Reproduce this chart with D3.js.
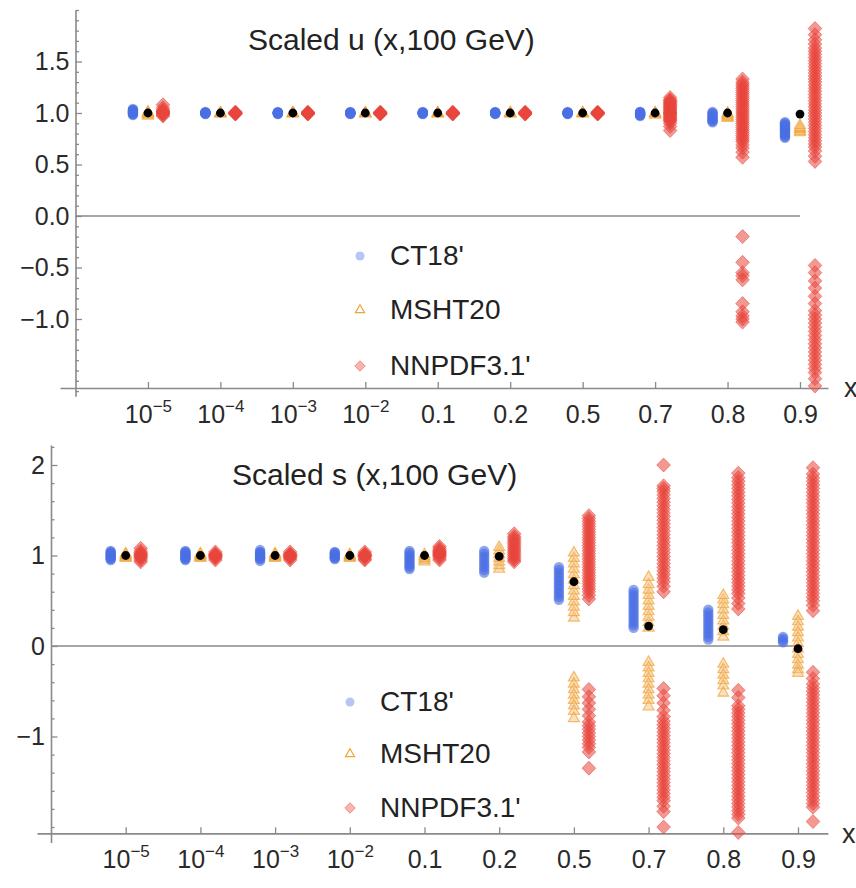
<!DOCTYPE html>
<html>
<head>
<meta charset="utf-8">
<title>Scaled u and s (x,100 GeV)</title>
<script src="https://cdn.jsdelivr.net/npm/d3@7"></script>
<style>
  body { margin: 0; background: #fff; }
  svg { display: block; font-family: "Liberation Sans", Arial, sans-serif; }
</style>
</head>
<body>
<svg id="chart" width="856" height="888"></svg>
<script>
// x categories and their tick labels (base + superscript)
var categories = ["1e-5", "1e-4", "1e-3", "1e-2", "0.1", "0.2", "0.5", "0.7", "0.8", "0.9"];
var tickBase = ["10", "10", "10", "10", "0.1", "0.2", "0.5", "0.7", "0.8", "0.9"];
var tickExp = ["\u22125", "\u22124", "\u22123", "\u22122", "", "", "", "", "", ""];
var seriesNames = ["CT18'", "MSHT20", "NNPDF3.1'"];

// ---- scaled u ----
var uCentral = [1.0, 1.0, 1.0, 1.0, 1.0, 1.0, 1.0, 1.0, 1.0, 0.99];
var uCT18 = [
  [0.98, 0.99, 1.0, 1.0, 1.01, 1.02, 1.03, 1.04, 0.99, 1.01, 1.02, 1.03],
  [0.99, 1.0, 1.0, 1.0, 1.01, 1.0, 0.995, 1.005, 1.0, 1.0],
  [0.99, 1.0, 1.0, 1.01, 1.0, 0.995, 1.005, 1.0, 1.0, 1.0],
  [0.99, 1.0, 1.0, 1.0, 1.01, 1.0, 0.995, 1.0, 1.0, 1.005],
  [0.99, 1.0, 1.0, 1.0, 1.0, 1.01, 0.995, 1.0, 1.005, 1.0],
  [0.99, 1.0, 1.0, 1.0, 1.01, 1.0, 1.0, 0.995, 1.0, 1.005],
  [0.99, 1.0, 1.0, 1.0, 1.0, 1.0, 0.995, 1.005, 1.0, 1.01],
  [0.97, 0.98, 0.98, 0.99, 1.0, 1.0, 1.01, 0.99, 0.98, 1.0, 1.01],
  [0.91, 0.92, 0.93, 0.94, 0.95, 0.96, 0.97, 0.98, 0.99, 1.0, 1.01],
  [0.76, 0.77, 0.78, 0.79, 0.8, 0.81, 0.82, 0.83, 0.84, 0.85, 0.86, 0.87, 0.88, 0.89, 0.9, 0.91]
];
var uMSHT20 = [
  [0.97, 0.98, 0.99, 1.0, 1.0, 1.01],
  [0.99, 1.0, 1.0, 1.0],
  [0.99, 1.0, 1.0, 1.0],
  [0.99, 1.0, 1.0, 1.0],
  [0.99, 1.0, 1.0, 1.0],
  [0.99, 1.0, 1.0, 1.0],
  [0.99, 1.0, 1.0, 1.0],
  [0.98, 0.99, 1.0, 1.0],
  [0.95, 0.96, 0.97, 0.98, 0.99, 1.0],
  [0.81, 0.82, 0.84, 0.85, 0.86, 0.88]
];
var uNNPDF31 = [
  [0.97, 0.98, 0.99, 1.0, 1.0, 1.0, 1.01, 1.01, 1.02, 1.03, 1.05, 1.08],
  [0.99, 0.99, 1.0, 1.0, 1.0, 1.0, 1.01, 1.0],
  [0.99, 1.0, 1.0, 1.0, 1.0, 1.0, 1.01, 0.99],
  [0.99, 0.99, 1.0, 1.0, 1.0, 1.01, 1.0, 1.0],
  [0.99, 1.0, 1.0, 1.0, 1.0, 1.0, 1.01, 0.99],
  [0.99, 0.99, 1.0, 1.0, 1.0, 1.0, 1.01, 1.0],
  [0.99, 1.0, 1.0, 1.0, 1.0, 1.0, 1.01, 0.99],
  [0.83, 0.87, 0.9, 0.92, 0.93, 0.94, 0.95, 0.96, 0.97, 0.98, 0.99, 1.0, 1.0, 1.01, 1.02, 1.03,
   1.04, 1.05, 1.06, 1.07, 1.08, 1.09, 1.1, 1.11, 1.12, 1.13, 1.15],
  [0.57, 0.62, 0.66, 0.69, 0.72, 0.74, 0.76, 0.78, 0.8, 0.82, 0.84, 0.86, 0.88, 0.9, 0.92, 0.94,
   0.96, 0.98, 1.0, 1.02, 1.04, 1.06, 1.08, 1.1, 1.12, 1.14, 1.16, 1.18, 1.2, 1.22, 1.24, 1.26,
   1.28, 1.3, 1.33, -0.2, -0.45, -0.55, -0.58, -0.62, -0.85, -0.93, -0.97, -1.0, -1.03],
  [0.53, 0.58, 0.63, 0.67, 0.7, 0.73, 0.76, 0.79, 0.82, 0.85, 0.88, 0.91, 0.94, 0.97, 1.0, 1.03,
   1.06, 1.09, 1.12, 1.15, 1.18, 1.21, 1.24, 1.27, 1.3, 1.33, 1.36, 1.39, 1.42, 1.45, 1.48, 1.51,
   1.54, 1.57, 1.6, 1.63, 1.67, 1.71, 1.76, 1.82,
   -0.48, -0.55, -0.63, -0.7, -0.78, -0.85, -0.92, -0.96, -1.0, -1.04, -1.08, -1.12, -1.16, -1.2,
   -1.24, -1.28, -1.32, -1.36, -1.4, -1.44, -1.48, -1.52, -1.58, -1.65]
];

// ---- scaled s ----
var sCentral = [1.0, 1.0, 1.0, 1.0, 1.0, 0.99, 0.71, 0.22, 0.18, -0.03];
var sCT18 = [
  [0.95, 0.96, 0.97, 0.98, 0.99, 1.0, 1.01, 1.02, 1.03, 1.04, 1.05],
  [0.95, 0.96, 0.97, 0.98, 0.99, 1.0, 1.01, 1.02, 1.03, 1.04, 1.05],
  [0.94, 0.96, 0.97, 0.98, 0.99, 1.0, 1.01, 1.02, 1.03, 1.04, 1.06],
  [0.96, 0.97, 0.98, 0.99, 1.0, 1.01, 1.02, 1.03, 1.04],
  [0.85, 0.87, 0.89, 0.91, 0.93, 0.95, 0.97, 0.99, 1.01, 1.03, 1.05],
  [0.81, 0.84, 0.87, 0.9, 0.93, 0.96, 0.99, 1.02, 1.05],
  [0.51, 0.54, 0.57, 0.6, 0.63, 0.66, 0.69, 0.72, 0.75, 0.78, 0.81, 0.84, 0.87],
  [0.2, 0.23, 0.26, 0.29, 0.32, 0.35, 0.38, 0.41, 0.44, 0.47, 0.5, 0.53, 0.56, 0.59, 0.62],
  [0.07, 0.1, 0.13, 0.16, 0.19, 0.22, 0.25, 0.28, 0.31, 0.34, 0.37, 0.4],
  [0.04, 0.06, 0.08, 0.1]
];
var sMSHT20 = [
  [0.97, 0.98, 0.99, 1.0, 1.01, 1.02],
  [0.97, 0.98, 0.99, 1.0, 1.01, 1.02],
  [0.97, 0.98, 0.99, 1.0, 1.01, 1.02],
  [0.97, 0.98, 0.99, 1.0, 1.01],
  [0.93, 0.95, 0.97, 0.99, 1.01],
  [0.85, 0.89, 0.93, 0.97, 1.01, 1.05, 1.09],
  [0.31, 0.37, 0.43, 0.49, 0.55, 0.61, 0.67, 0.73, 0.79, 0.85, 0.91, 0.97, 1.03,
   -0.35, -0.42, -0.48, -0.54, -0.6, -0.66, -0.72, -0.8],
  [0.2, 0.26, 0.32, 0.38, 0.44, 0.5, 0.56, 0.62, 0.68, 0.76,
   -0.18, -0.24, -0.3, -0.36, -0.42, -0.48, -0.54, -0.6, -0.67],
  [0.1, 0.16, 0.22, 0.28, 0.34, 0.4, 0.46, 0.51, 0.56,
   -0.2, -0.26, -0.32, -0.38, -0.44, -0.52],
  [0.33, 0.27, 0.21, 0.15, 0.09, 0.03, -0.03, -0.09, -0.15, -0.21, -0.26, -0.3]
];
var sNNPDF31 = [
  [0.93, 0.95, 0.97, 0.98, 0.99, 1.0, 1.01, 1.02, 1.03, 1.05, 1.08],
  [0.95, 0.97, 0.98, 0.99, 1.0, 1.0, 1.01, 1.02, 1.04],
  [0.95, 0.97, 0.98, 0.99, 1.0, 1.0, 1.01, 1.02, 1.04],
  [0.95, 0.96, 0.98, 0.99, 1.0, 1.0, 1.01, 1.02, 1.04],
  [0.95, 0.97, 0.99, 1.0, 1.01, 1.02, 1.03, 1.04, 1.05, 1.06, 1.08, 1.1],
  [0.93, 0.95, 0.97, 0.99, 1.01, 1.03, 1.05, 1.07, 1.09, 1.11, 1.13, 1.15, 1.17, 1.19, 1.21, 1.24],
  [0.52, 0.56, 0.6, 0.63, 0.66, 0.69, 0.72, 0.75, 0.78, 0.81, 0.84, 0.87, 0.9, 0.93, 0.96, 0.99,
   1.02, 1.05, 1.08, 1.11, 1.14, 1.17, 1.2, 1.23, 1.26, 1.29, 1.32, 1.35, 1.38, 1.41, 1.44,
   -0.48, -0.56, -0.63, -0.7, -0.77, -0.84, -0.88, -0.92, -0.96, -1.0, -1.04, -1.08, -1.12, -1.17, -1.35],
  [0.6, 0.66, 0.71, 0.75, 0.79, 0.83, 0.87, 0.91, 0.95, 0.99, 1.03, 1.07, 1.11, 1.15, 1.19, 1.23,
   1.27, 1.31, 1.35, 1.39, 1.43, 1.47, 1.51, 1.55, 1.59, 1.63, 1.67, 1.71, 1.74, 1.77, 2.0,
   -0.47, -0.55, -0.63, -0.71, -0.78, -0.83, -0.87, -0.91, -0.95, -0.99, -1.03, -1.07, -1.11, -1.15,
   -1.19, -1.23, -1.27, -1.31, -1.35, -1.39, -1.43, -1.47, -1.51, -1.55, -1.59, -1.63, -1.67, -1.71,
   -1.77, -1.83, -2.0],
  [0.41, 0.47, 0.53, 0.58, 0.62, 0.66, 0.7, 0.74, 0.78, 0.82, 0.86, 0.9, 0.94, 0.98, 1.02, 1.06,
   1.1, 1.14, 1.18, 1.22, 1.26, 1.3, 1.34, 1.38, 1.42, 1.46, 1.5, 1.54, 1.58, 1.62, 1.66, 1.7,
   1.74, 1.78, 1.82, 1.86, 1.91,
   -0.49, -0.57, -0.66, -0.7, -0.74, -0.78, -0.82, -0.86, -0.9, -0.94, -0.98, -1.02, -1.06, -1.1,
   -1.14, -1.18, -1.22, -1.26, -1.3, -1.34, -1.38, -1.42, -1.46, -1.5, -1.54, -1.58, -1.62, -1.66,
   -1.7, -1.74, -1.78, -1.82, -1.86, -1.9, -2.06],
  [0.39, 0.45, 0.5, 0.54, 0.58, 0.62, 0.66, 0.7, 0.74, 0.78, 0.82, 0.86, 0.9, 0.94, 0.98, 1.02,
   1.06, 1.1, 1.14, 1.18, 1.22, 1.26, 1.3, 1.34, 1.38, 1.42, 1.46, 1.5, 1.54, 1.58, 1.62, 1.66,
   1.7, 1.74, 1.78, 1.82, 1.86, 1.9, 1.97,
   -0.29, -0.36, -0.42, -0.46, -0.5, -0.54, -0.58, -0.62, -0.66, -0.7, -0.74, -0.78, -0.82, -0.86,
   -0.9, -0.94, -0.98, -1.02, -1.06, -1.1, -1.14, -1.18, -1.22, -1.26, -1.3, -1.34, -1.38, -1.42,
   -1.46, -1.5, -1.54, -1.58, -1.62, -1.66, -1.7, -1.74, -1.78, -1.94]
];

var uMajor = [-1.0, -0.5, 0.0, 0.5, 1.0, 1.5];
var sMajor = [-1, 0, 1, 2];

var BLUE = "#4a6fe3", ORANGE = "#f0a43a", RED = "#e8453c";

var svg = d3.select("#chart");

var panels = [
  {
    title: "Scaled u (x,100 GeV)", titleX: 248, titleY: 50,
    central: uCentral, ct: uCT18, msht: uMSHT20, nn: uNNPDF31,
    major: uMajor, minorStep: 0.1, fmt: d3.format(".1f"),
    x0: 75.5, dx: 72.45, xLo: -0.214, xHi: 10.386,
    y0: 216, dy: 103, yLo: -1.75, yHi: 2.0, xAxisAt: -1.67,
    legX: 360, legY: [256, 310, 366], xLabel: [844, 397]
  },
  {
    title: "Scaled s (x,100 GeV)", titleX: 232, titleY: 485,
    central: sCentral, ct: sCT18, msht: sMSHT20, nn: sNNPDF31,
    major: sMajor, minorStep: 0.2, fmt: d3.format("d"),
    x0: 51, dx: 74.7, xLo: -0.187, xHi: 10.4,
    y0: 646, dy: 90.5, yLo: -2.17, yHi: 2.22, xAxisAt: -2.07,
    legX: 350, legY: [702, 754, 808], xLabel: [842, 843]
  }
];

var diamond = function(w, h) {
  return "M0," + (-h) + "L" + w + ",0L0," + h + "L" + (-w) + ",0Z";
};
var triangle = d3.symbol().type(d3.symbolTriangle).size(52)();
var triangleSmall = d3.symbol().type(d3.symbolTriangle).size(36)();

panels.forEach(function(p) {
  var x = d3.scaleLinear().domain([0, 10]).range([p.x0, p.x0 + 10 * p.dx]);
  var y = d3.scaleLinear().domain([0, 1]).range([p.y0, p.y0 - p.dy]);
  var xAxisScale = x.copy().domain([p.xLo, p.xHi]).range([x(p.xLo), x(p.xHi)]);
  var yAxisScale = y.copy().domain([p.yLo, p.yHi]).range([y(p.yLo), y(p.yHi)]);

  var g = svg.append("g");

  // zero line
  g.append("line")
    .attr("x1", x(0)).attr("x2", x(10))
    .attr("y1", y(0)).attr("y2", y(0))
    .attr("stroke", "#8a8a8a").attr("stroke-width", 1.6);

  // y axis, minor ticks first
  var minor = d3.range(Math.ceil(p.yLo / p.minorStep), Math.floor(p.yHi / p.minorStep) + 1)
    .map(function(k) { return +(k * p.minorStep).toFixed(2); })
    .filter(function(v) { return p.major.indexOf(v) < 0; });

  g.append("g")
    .attr("transform", "translate(" + x(0) + ",0)")
    .call(d3.axisLeft(yAxisScale).tickValues(minor).tickSize(-3.5).tickSizeOuter(0).tickFormat(""))
    .call(function(a) { a.select(".domain").remove(); });

  g.append("g")
    .attr("transform", "translate(" + x(0) + ",0)")
    .call(d3.axisLeft(yAxisScale).tickValues(p.major).tickSize(-6.5).tickSizeOuter(0)
      .tickPadding(6).tickFormat(p.fmt));

  // x axis
  var xAx = g.append("g")
    .attr("transform", "translate(0," + y(p.xAxisAt) + ")")
    .call(d3.axisBottom(xAxisScale).tickValues(d3.range(1, 11)).tickSize(-6).tickSizeOuter(0)
      .tickFormat(""));

  xAx.selectAll(".tick").append("text")
    .attr("y", 35).attr("text-anchor", "middle")
    .each(function(d) {
      var t = d3.select(this);
      t.append("tspan").text(tickBase[d - 1]);
      if (tickExp[d - 1]) {
        t.append("tspan").attr("dy", -11).attr("font-size", 17).text(tickExp[d - 1]);
      }
    });

  g.selectAll(".domain").attr("stroke", "#8a8a8a").attr("stroke-width", 1.6);
  g.selectAll(".tick line").attr("stroke", "#8a8a8a").attr("stroke-width", 1.3);
  g.selectAll(".tick text").attr("fill", "#2a2a2a").attr("font-size", 25)
    .attr("font-family", "Liberation Sans, Arial, sans-serif");

  g.append("text")
    .attr("x", p.xLabel[0]).attr("y", p.xLabel[1])
    .attr("font-size", 27).attr("fill", "#2a2a2a").text("x");

  // title
  g.append("text")
    .attr("x", p.titleX).attr("y", p.titleY)
    .attr("font-size", 30).attr("fill", "#222").text(p.title);

  // points
  function flat(arr, off) {
    var out = [];
    arr.forEach(function(vals, i) {
      vals.forEach(function(v) { out.push({ i: i + 1, v: v, off: off }); });
    });
    return out;
  }

  g.append("g").selectAll("circle")
    .data(flat(p.ct, -15)).join("circle")
    .attr("cx", function(d) { return x(d.i) + d.off; })
    .attr("cy", function(d) { return y(d.v); })
    .attr("r", 5.2)
    .attr("fill", BLUE).attr("fill-opacity", 0.62);

  g.append("g").selectAll("path")
    .data(flat(p.msht, 0)).join("path")
    .attr("d", triangle)
    .attr("transform", function(d) { return "translate(" + (x(d.i) + d.off) + "," + y(d.v) + ")"; })
    .attr("fill", "#f7c27c").attr("fill-opacity", 0.5)
    .attr("stroke", ORANGE).attr("stroke-opacity", 0.7).attr("stroke-width", 1.2);

  g.append("g").selectAll("path")
    .data(flat(p.nn, 15)).join("path")
    .attr("d", diamond(6.8, 7))
    .attr("transform", function(d) { return "translate(" + (x(d.i) + d.off) + "," + y(d.v) + ")"; })
    .attr("fill", RED).attr("fill-opacity", 0.55)
    .attr("stroke", RED).attr("stroke-opacity", 0.55).attr("stroke-width", 1);

  g.append("g").selectAll("circle")
    .data(p.central).join("circle")
    .attr("cx", function(d, i) { return x(i + 1); })
    .attr("cy", function(d) { return y(d); })
    .attr("r", 4.4)
    .attr("fill", "#000");

  // legend
  var leg = g.append("g");
  seriesNames.forEach(function(name, k) {
    var ly = p.legY[k];
    if (k === 0) {
      leg.append("circle").attr("cx", p.legX).attr("cy", ly).attr("r", 4.5)
        .attr("fill", BLUE).attr("fill-opacity", 0.4);
    } else if (k === 1) {
      leg.append("path").attr("d", triangleSmall)
        .attr("transform", "translate(" + p.legX + "," + ly + ")")
        .attr("fill", "#fff").attr("stroke", ORANGE).attr("stroke-width", 1.2);
    } else {
      leg.append("path").attr("d", diamond(5.2, 5.2))
        .attr("transform", "translate(" + p.legX + "," + ly + ")")
        .attr("fill", RED).attr("fill-opacity", 0.4)
        .attr("stroke", RED).attr("stroke-opacity", 0.5);
    }
    leg.append("text")
      .attr("x", p.legX + 30).attr("y", ly + 9)
      .attr("font-size", 28).attr("fill", "#222").text(name);
  });
});
</script>
</body>
</html>
